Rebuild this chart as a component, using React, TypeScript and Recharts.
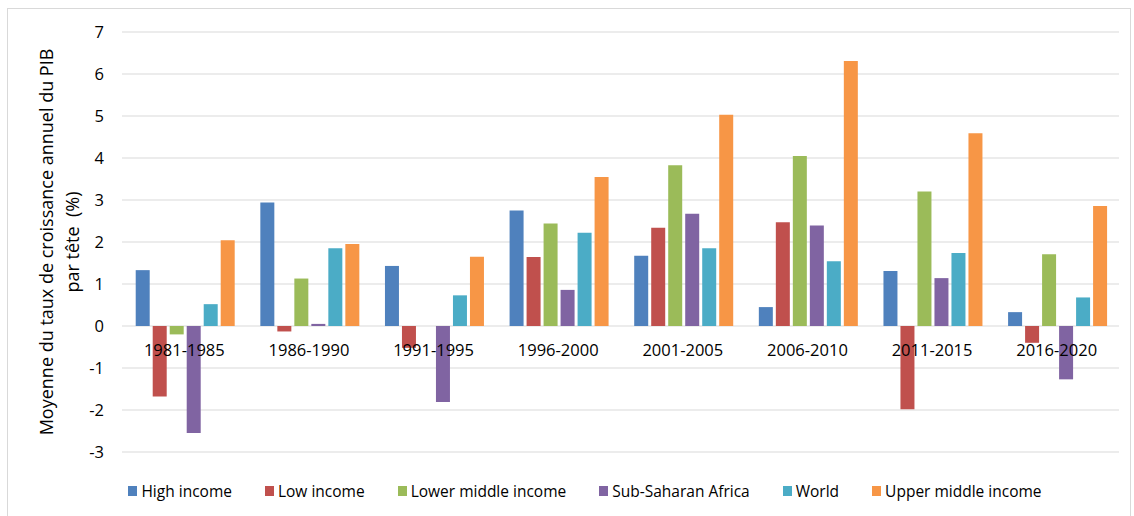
import { BarChart, Bar, XAxis, YAxis, CartesianGrid, Legend } from 'recharts';

const PERIODS = ['1981-1985', '1986-1990', '1991-1995', '1996-2000', '2001-2005', '2006-2010', '2011-2015', '2016-2020'];
const HIGH_INCOME = [1.33, 2.94, 1.43, 2.75, 1.67, 0.45, 1.31, 0.33];
const LOW_INCOME = [-1.68, -0.13, -0.52, 1.64, 2.34, 2.47, -1.98, -0.4];
const LOWER_MIDDLE = [-0.2, 1.13, null, 2.44, 3.83, 4.05, 3.2, 1.71];
const SUB_SAHARAN = [-2.55, 0.05, -1.81, 0.86, 2.67, 2.39, 1.14, -1.27];
const WORLD = [0.52, 1.85, 0.73, 2.22, 1.85, 1.54, 1.74, 0.68];
const UPPER_MIDDLE = [2.04, 1.95, 1.65, 3.55, 5.03, 6.31, 4.59, 2.86];
const Y_TICKS = [-3, -2, -1, 0, 1, 2, 3, 4, 5, 6, 7];

const SERIES = [
  { key: 'high', name: 'High income', values: HIGH_INCOME, color: '#4F81BD' },
  { key: 'low', name: 'Low income', values: LOW_INCOME, color: '#C0504D' },
  { key: 'lmi', name: 'Lower middle income', values: LOWER_MIDDLE, color: '#9BBB59' },
  { key: 'ssa', name: 'Sub-Saharan Africa', values: SUB_SAHARAN, color: '#8064A2' },
  { key: 'world', name: 'World', values: WORLD, color: '#4BACC6' },
  { key: 'umi', name: 'Upper middle income', values: UPPER_MIDDLE, color: '#F79646' },
];

const data = PERIODS.map((period, i) => {
  const row: Record<string, string | number | null> = { period };
  SERIES.forEach((s) => (row[s.key] = s.values[i]));
  return row;
});

const W = 1134;
const H = 516;
const MARGIN = { top: 32, right: 15, left: 0, bottom: 13 };
const LEGEND_H = 50;
const X_H = 1;
const PLOT_H = H - MARGIN.top - MARGIN.bottom - LEGEND_H - X_H;
const Y_MIN = -3;
const Y_MAX = 7;
const ZERO_UP = (PLOT_H * (0 - Y_MIN)) / (Y_MAX - Y_MIN);
const FONT = '"Open Sans", sans-serif';

function PeriodTick(props: any) {
  const { x, y, payload } = props;
  return (
    <text x={x} y={y - ZERO_UP + 22} textAnchor="middle" fontSize={16.5} fontFamily={FONT} fill="#000">
      {payload.value}
    </text>
  );
}

function YTitle(props: any) {
  const { viewBox } = props;
  const cy = viewBox.y + viewBox.height / 2;
  const x1 = 53;
  const x2 = 79;
  return (
    <g fontFamily={FONT} fontSize={18} fill="#000">
      <text x={x1} y={cy} textAnchor="middle" transform={`rotate(-90, ${x1}, ${cy})`}>
        Moyenne du taux de croissance annuel du PIB
      </text>
      <text x={x2} y={cy} textAnchor="middle" transform={`rotate(-90, ${x2}, ${cy})`} style={{ whiteSpace: 'pre' }}>
        {'par tête  (%)'}
      </text>
    </g>
  );
}

function LegendContent() {
  return (
    <div
      style={{
        display: 'flex',
        justifyContent: 'center',
        paddingTop: 29,
        paddingLeft: 84,
        fontFamily: FONT,
        fontSize: 15.5,
        color: '#000',
        lineHeight: '18px',
      }}
    >
      {SERIES.map((s) => (
        <div key={s.key} style={{ display: 'flex', alignItems: 'center', marginRight: 33 }}>
          <span style={{ width: 9, height: 10, background: s.color, marginRight: 4, display: 'inline-block' }} />
          <span>{s.name}</span>
        </div>
      ))}
    </div>
  );
}

export default function App() {
  return (
    <div style={{ position: 'absolute', left: 0, top: 0, width: W, height: H, overflow: 'hidden', background: '#fff' }}>
      <div
        style={{
          position: 'absolute',
          left: 7,
          top: 8,
          width: 1124,
          height: 530,
          border: '1px solid #d9d9d9',
          boxSizing: 'border-box',
        }}
      />
      <div style={{ position: 'absolute', left: 0, top: 0 }}>
        <BarChart width={W} height={H} data={data} margin={MARGIN} barCategoryGap="11%" barGap={3}>
          <CartesianGrid vertical={false} stroke="#d9d9d9" strokeWidth={1} />
          <YAxis
            domain={[Y_MIN, Y_MAX]}
            ticks={Y_TICKS}
            interval={0}
            width={122}
            axisLine={false}
            tickLine={false}
            tickSize={0}
            tickMargin={18}
            tick={{ fontSize: 16.5, fontFamily: FONT, fill: '#000' }}
            label={<YTitle />}
          />
          {SERIES.map((s) => (
            <Bar key={s.key} dataKey={s.key} name={s.name} fill={s.color} isAnimationActive={false} />
          ))}
          <XAxis dataKey="period" height={X_H} axisLine={false} tickLine={false} interval={0} tick={<PeriodTick />} />
          <Legend verticalAlign="bottom" height={LEGEND_H} content={<LegendContent />} />
        </BarChart>
      </div>
    </div>
  );
}
